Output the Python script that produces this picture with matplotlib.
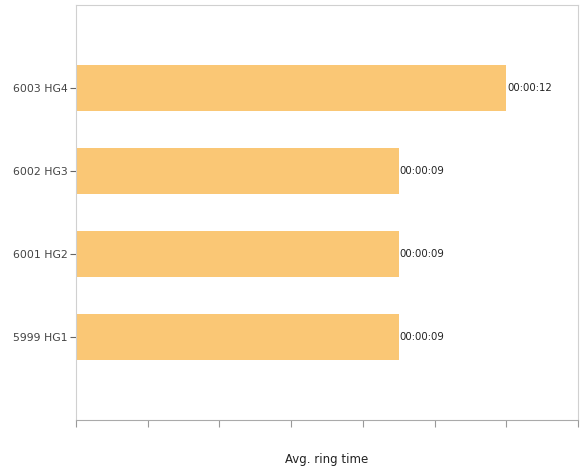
import matplotlib
matplotlib.use("Agg")
from matplotlib import pyplot as plt

# average ring time per hunt group, in seconds
groups = ["5999 HG1", "6001 HG2", "6002 HG3", "6003 HG4"]
ring_secs = [9, 9, 9, 12]


def hms(s):
    return f"{s // 3600:02d}:{(s % 3600) // 60:02d}:{s % 60:02d}"


fig = plt.figure(figsize=(5.81, 4.72), dpi=100)
ax = fig.add_axes([76/581, 52/472, 502/581, 415/472])

pos = range(len(groups))
ax.barh(pos, ring_secs, height=0.55, color="#fac775", zorder=2)
for y, v in zip(pos, ring_secs):
    ax.text(v + 0.03, y, hms(v), fontsize=7.3, color="#222222",
            va="center", ha="left", family="DejaVu Sans")

ax.set_xlim(0, 14)
ax.set_ylim(-1, len(groups))
ax.set_xticks(range(0, 15, 2))
ax.set_xticklabels([])
ax.set_yticks(list(pos))
ax.set_yticklabels(groups, fontsize=7.8, color="#444444")
ax.tick_params(axis="x", length=5, color="#999999", direction="out")
ax.tick_params(axis="y", length=4, color="#666666", pad=2)

for side in ["left", "top", "right", "bottom"]:
    ax.spines[side].set_color("#d0d0d0")
    ax.spines[side].set_linewidth(0.8)
ax.spines["bottom"].set_color("#aaaaaa")

ax.set_xlabel("Avg. ring time", fontsize=8.5, color="#222222", labelpad=15)

plt.savefig("out.png", dpi=100)
